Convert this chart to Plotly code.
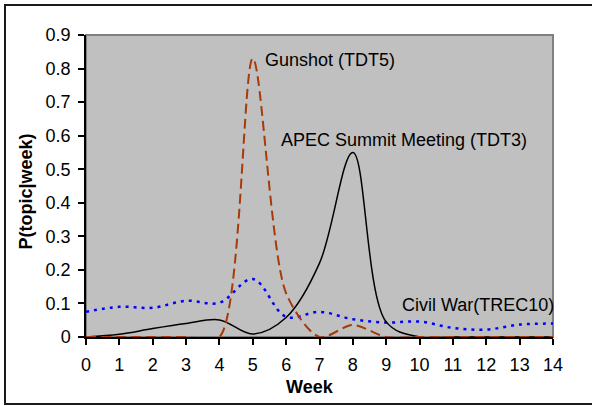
import plotly.graph_objects as go

weeks = list(range(15))
civil_war = [0.075, 0.090, 0.087, 0.108, 0.102, 0.173, 0.060, 0.075, 0.053, 0.043, 0.046, 0.027, 0.022, 0.037, 0.040]
apec = [0.0, 0.008, 0.025, 0.040, 0.051, 0.009, 0.058, 0.220, 0.550, 0.045, 0.0, 0.0, 0.0, 0.0, 0.0]
gunshot = [0.0, 0.0, 0.0, 0.0, 0.0, 0.830, 0.130, 0.0, 0.036, 0.0, 0.0, 0.0, 0.0, 0.0, 0.0]

x_ticks = list(range(15))
y_ticks = [0, 0.1, 0.2, 0.3, 0.4, 0.5, 0.6, 0.7, 0.8, 0.9]
y_tick_labels = ["0", "0.1", "0.2", "0.3", "0.4", "0.5", "0.6", "0.7", "0.8", "0.9"]

labels = {
    "gunshot": ("Gunshot (TDT5)", 5.31, 0.825),
    "apec": ("APEC Summit Meeting (TDT3)", 5.79, 0.587),
    "civil": ("Civil War(TREC10)", 9.41, 0.095),
}

FONT = "Liberation Sans, Arial, sans-serif"
BROWN = "#A63A08"

fig = go.Figure()
fig.add_trace(go.Scatter(x=weeks, y=civil_war, mode="lines", name="Civil War(TREC10)",
                         line=dict(color="#0000FF", width=2.5, dash="3px,5px", shape="spline", smoothing=1)))
fig.add_trace(go.Scatter(x=weeks, y=apec, mode="lines", name="APEC Summit Meeting (TDT3)",
                         line=dict(color="#000000", width=1.5, shape="spline", smoothing=1)))
fig.add_trace(go.Scatter(x=weeks, y=gunshot, mode="lines", name="Gunshot (TDT5)",
                         line=dict(color=BROWN, width=2, dash="10px,5px", shape="spline", smoothing=0.8)))

for key, (txt, xv, yv) in labels.items():
    fig.add_annotation(x=xv, y=yv, xref="x", yref="y", text=txt, showarrow=False,
                       xanchor="left", yanchor="middle", font=dict(family=FONT, size=18, color="#000000"))

# axis titles
fig.add_annotation(x=(310 - 86) / 467, y=(337 - 387) / 302, xref="paper", yref="paper", text="<b>Week</b>",
                   showarrow=False, xanchor="center", yanchor="middle",
                   font=dict(family=FONT, size=18, color="#000000"))
fig.add_annotation(x=(25.5 - 86) / 467, y=(337 - 192) / 302, xref="paper", yref="paper", text="<b>P(topic|week)</b>",
                   showarrow=False, textangle=-90, xanchor="center", yanchor="middle",
                   font=dict(family=FONT, size=18, color="#000000"))

# plot area border (gray) and outer chart border
fig.add_shape(type="rect", xref="paper", yref="paper", x0=0, x1=1, y0=0, y1=1,
              line=dict(color="#808080", width=2), layer="below")
fig.add_shape(type="rect", xref="paper", yref="paper",
              x0=(5 - 86) / 467, x1=(600 - 86) / 467, y0=(337 - 404) / 302, y1=(337 - 5) / 302,
              line=dict(color="#1a1a1a", width=2), layer="above")

fig.update_layout(
    width=592, height=406,
    margin=dict(l=86, r=39, t=35, b=69, pad=0),
    paper_bgcolor="#FFFFFF", plot_bgcolor="#C0C0C0",
    showlegend=False,
    font=dict(family=FONT, size=18, color="#000000"),
)
fig.update_xaxes(range=[0, 14], tickvals=x_ticks, ticktext=[str(v) for v in x_ticks],
                 showgrid=False, zeroline=False, showline=True, linecolor="#000000", linewidth=1.5,
                 ticks="outside", ticklen=6, tickwidth=1.5, tickcolor="#000000",
                 tickfont=dict(family=FONT, size=18), ticklabelstandoff=5, layer="below traces")
fig.update_yaxes(range=[0, 0.9], tickvals=y_ticks, ticktext=y_tick_labels,
                 showgrid=False, zeroline=False, showline=True, linecolor="#000000", linewidth=1.5,
                 ticks="outside", ticklen=6, tickwidth=1.5, tickcolor="#000000",
                 tickfont=dict(family=FONT, size=18), ticklabelstandoff=4, layer="below traces")

fig.write_html("out.html", config={"displayModeBar": False},
               post_script="document.body.style.margin='0px';document.body.style.overflow='hidden';")
